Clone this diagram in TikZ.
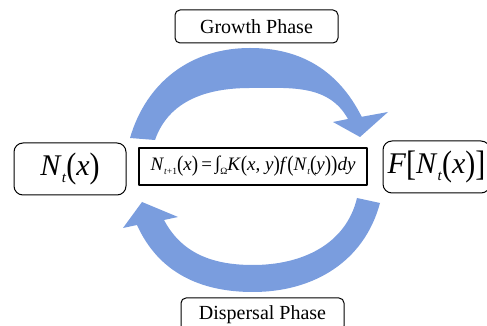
\documentclass[tikz,border=0pt]{standalone}
\usepackage{fontspec}
\setmainfont{Liberation Serif}
\definecolor{cyclearrow}{RGB}{122,157,222}
% tall parentheses and brackets, as the equation editor sets them
\newcommand{\tallp}[1]{\raisebox{-0.06em}{\scalebox{1}[1.18]{(}}#1\raisebox{-0.06em}{\scalebox{1}[1.18]{)}}}
\newcommand{\tallb}[1]{\raisebox{-0.06em}{\scalebox{1}[1.18]{[}}#1\raisebox{-0.06em}{\scalebox{1}[1.18]{]}}}
% small, low index
\newcommand{\lowidx}[1]{\raisebox{-0.22em}{\scalebox{0.5}{#1}}}

\begin{document}
\begin{tikzpicture}[
  x=1pt,
  y=1pt,
  line join=round,
  phasebox/.style={
    draw, rounded corners=5pt, line width=1pt, inner sep=0pt,
    minimum width=163pt, minimum height=33pt,
    font=\fontsize{20}{24}\selectfont},
  statebox/.style={
    draw, rounded corners=9pt, line width=1pt, inner sep=0pt,
    minimum height=52pt,
    font=\fontsize{30}{34}\selectfont},
  kernelbox/.style={
    draw, line width=1.3pt, inner sep=0pt,
    minimum width=228pt, minimum height=37pt,
    font=\fontsize{19}{22}\selectfont}
]
  \useasboundingbox (0,0) rectangle (487,326);
  \clip (0,0) rectangle (487,326);

  % Growth: upper arrow, left to right
  \fill[cyclearrow]
    (130,188)
    to[out=73.7,in=180] (250,278)
    to[out=0,in=116.7] (361.7,209.2)
    -- (388,214) -- (360,189) -- (333,204) -- (348,207)
    to[out=119,in=0] (250,238)
    to[out=180,in=70.8] (155,186)
    -- cycle;

  % Dispersal: lower arrow, right to left
  \fill[cyclearrow]
    (380,123)
    to[out=-105,in=0] (253,34)
    to[out=180,in=-65.7] (137,101)
    -- (123,98) -- (142,124) -- (178,109) -- (164,106)
    to[out=-62,in=180] (253,61)
    to[out=0,in=-103.4] (357,128)
    -- cycle;

  % Phase labels
  \node[phasebox] (growth) at (256.5,299.5) {Growth Phase};
  \node[phasebox] (dispersal) at (262.5,11.5) {Dispersal Phase};

  % Population now, the kernel map, and after growth
  \node[statebox, minimum width=112pt] (now) at (70,157)
    {\textit{N}\lowidx{\textit{t}}\tallp{\textit{x}}};
  \node[kernelbox] (kernel) at (253,159.5)
    {\textit{N}\lowidx{\textit{t}+1}\tallp{\textit{x}}\,=\,\raisebox{0.05em}{∫}\lowidx{Ω}\textit{K}\tallp{\textit{x}, \textit{y}}\textit{f}\tallp{\textit{N}\lowidx{\textit{t}}\tallp{\textit{y}}}\textit{dy}};
  \node[statebox, minimum width=107pt] (next) at (436.5,159)
    {\textit{F}\tallb{\textit{N}\lowidx{\textit{t}}\tallp{\textit{x}}}};
\end{tikzpicture}
\end{document}
